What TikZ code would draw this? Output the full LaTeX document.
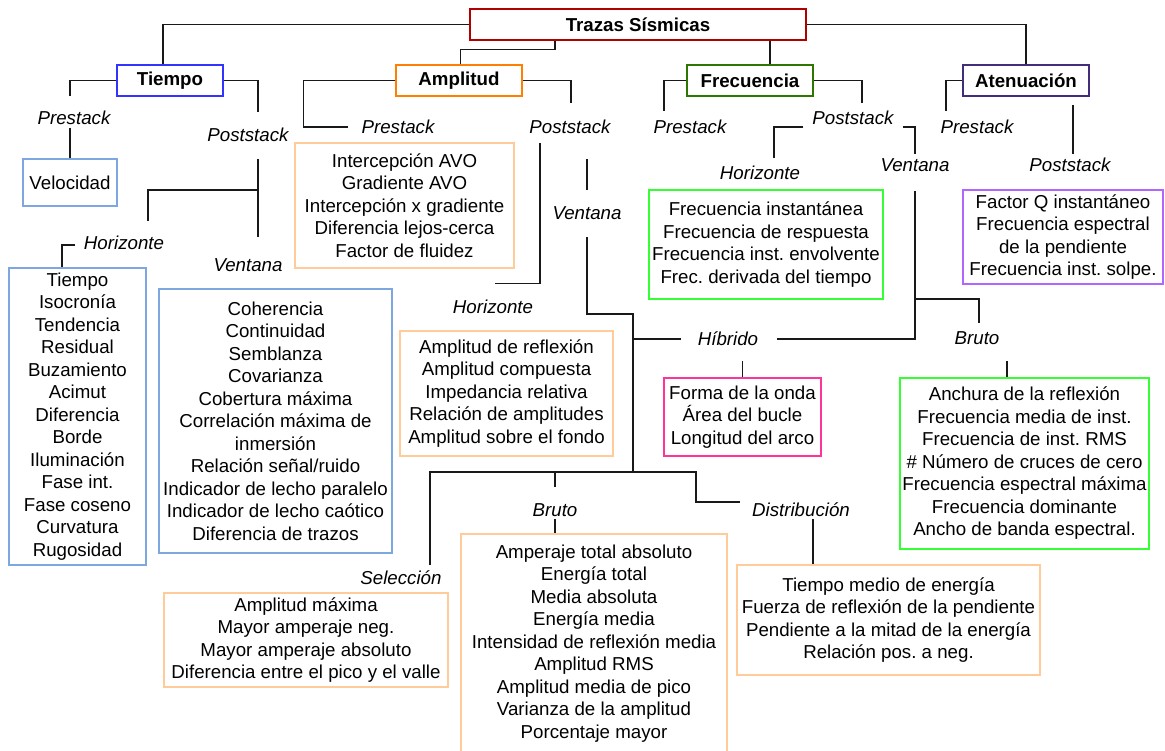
\documentclass[tikz,border=0pt]{standalone}
\usepackage{fontspec}
\setmainfont{Liberation Sans}
\definecolor{trz}{HTML}{B20000}
\definecolor{tmp}{HTML}{3333FF}
\definecolor{amp}{HTML}{FF8000}
\definecolor{frc}{HTML}{2D7600}
\definecolor{atn}{HTML}{432D7A}
\definecolor{lblue}{HTML}{7EA6E0}
\definecolor{lorange}{HTML}{FFCC99}
\definecolor{lgreen}{HTML}{33FF33}
\definecolor{lpurple}{HTML}{B266FF}
\definecolor{lpink}{HTML}{FF3399}
\begin{document}
\frenchspacing
\begin{tikzpicture}[x=1pt,y=-1pt,
  every node/.style={font=\fontsize{18.7}{22.5}\selectfont},
  cat/.style={draw,line width=1.5pt,font=\fontsize{18.7}{22.5}\selectfont\bfseries,inner sep=0pt,minimum height=31pt},
  lbl/.style={font=\fontsize{18.7}{22.5}\selectfont\itshape,inner sep=0pt,text height=13pt,text depth=0pt},
  lst/.style 2 args={draw,line width=1.5pt,align=center,inner sep=0pt,minimum width=#1,minimum height=#2},
  cn/.style={line width=1.3pt,draw=black!90}]
\useasboundingbox (0,0) rectangle (1165,751);
\fill[white] (0,0) rectangle (1165,751);

\node[cat,draw=trz,minimum width=336pt] (root) at (638,24.5) {Trazas Sísmicas};
\node[cat,draw=tmp,minimum width=106pt] (tiempo) at (170,80.5) {Tiempo};
\node[cat,draw=amp,minimum width=126pt] (amplitud) at (459,80.5) {Amplitud};
\node[cat,draw=frc,minimum width=126pt] (frecuencia) at (750,80.5) {Frecuencia};
\node[cat,draw=atn,minimum width=126pt] (atenuacion) at (1026,80.5) {Atenuación};

\node[lbl] (pTi) at (74,118) {Prestack};
\node[lbl] (sTi) at (248,135) {Poststack};
\node[lbl] (hTi) at (124,243) {Horizonte};
\node[lbl] (vTi) at (248,265) {Ventana};
\node[lbl] (pAm) at (398,127) {Prestack};
\node[lbl] (sAm) at (570,127) {Poststack};
\node[lbl] (vAm) at (587,213) {Ventana};
\node[lbl] (hAm) at (493,307) {Horizonte};
\node[lbl] (hib) at (728,339) {Híbrido};
\node[lbl] (selA) at (401,578) {Selección};
\node[lbl] (bAm) at (555,510) {Bruto};
\node[lbl] (distA) at (801,510) {Distribución};
\node[lbl] (pFr) at (690,127) {Prestack};
\node[lbl] (sFr) at (853,118) {Poststack};
\node[lbl] (hFr) at (760,173) {Horizonte};
\node[lbl] (vFr) at (915,165) {Ventana};
\node[lbl] (bFr) at (977,338) {Bruto};
\node[lbl] (pAt) at (977,127) {Prestack};
\node[lbl] (sAt) at (1070,165) {Poststack};

\node[lst={94pt}{47pt},draw=lblue] (velocidad) at (70,182.5) {Velocidad};
\node[lst={137pt}{297pt},draw=lblue] (tlist) at (77.5,416.5) {Tiempo\\Isocronía\\Tendencia\\Residual\\Buzamiento\\Acimut\\Diferencia\\Borde\\Iluminación\\Fase int.\\Fase coseno\\Curvatura\\Rugosidad};
\node[lst={233pt}{264pt},draw=lblue] (vlist) at (275.5,421) {Coherencia\\Continuidad\\Semblanza\\Covarianza\\Cobertura máxima\\Correlación máxima de\\inmersión\\Relación señal/ruido\\Indicador de lecho paralelo\\Indicador de lecho caótico\\Diferencia de trazos};
\node[lst={219pt}{125pt},draw=lorange] (avo) at (404.5,205.5) {Intercepción AVO\\Gradiente AVO\\Intercepción x gradiente\\Diferencia lejos-cerca\\Factor de fluidez};
\node[lst={213pt}{125pt},draw=lorange] (hAmBox) at (506.5,393.5) {Amplitud de reflexión\\Amplitud compuesta\\Impedancia relativa\\Relación de amplitudes\\Amplitud sobre el fondo};
\node[lst={157pt}{78pt},draw=lpink] (hbox) at (742.5,417) {Forma de la onda\\Área del bucle\\Longitud del arco};
\node[lst={249pt}{171pt},draw=lgreen] (bFrBox) at (1024.5,463.5) {Anchura de la reflexión\\Frecuencia media de inst.\\Frecuencia de inst. RMS\\\# Número de cruces de cero\\Frecuencia espectral máxima\\Frecuencia dominante\\Ancho de banda espectral.};
\node[lst={284pt}{94pt},draw=lorange] (selBox) at (306,640) {Amplitud máxima\\Mayor amperaje neg.\\Mayor amperaje absoluto\\Diferencia entre el pico y el valle};
\node[lst={266pt}{219pt},draw=lorange] (bAmBox) at (594,643.5) {Amperaje total absoluto\\Energía total\\Media absoluta\\Energía media\\Intensidad de reflexión media\\Amplitud RMS\\Amplitud media de pico\\Varianza de la amplitud\\Porcentaje mayor};
\node[lst={303pt}{110pt},draw=lorange] (distBox) at (888.5,620) {Tiempo medio de energía\\Fuerza de reflexión de la pendiente\\Pendiente a la mitad de la energía\\Relación pos. a neg.};
\node[lst={234pt}{109pt},draw=lgreen] (fHor) at (766,244.5) {Frecuencia instantánea\\Frecuencia de respuesta\\Frecuencia inst. envolvente\\Frec. derivada del tiempo};
\node[lst={200pt}{94pt},draw=lpurple] (atBox) at (1063,237) {Factor Q instantáneo\\Frecuencia espectral\\de la pendiente\\Frecuencia inst. solpe.};

\coordinate (jTi) at (258,190);
\coordinate (kAm) at (633,314);
\coordinate (jAm) at (633,472);
\coordinate (kDist) at (696,472);
\coordinate (jFr) at (915,299);

\draw[cn] (root.west) -| ([xshift=-7pt]tiempo.north);
\draw[cn] ([xshift=-83pt]root.south) -- ++(0,9) -| ([xshift=1.5pt]amplitud.north);
\draw[cn] ([xshift=132pt]root.south) -- ([xshift=20pt]frecuencia.north);
\draw[cn] (root.east) -| (atenuacion.north);

\draw[cn] (tiempo.west) -| ([xshift=-4pt,yshift=15.5pt]pTi.north);
\draw[cn] ([xshift=-4pt,yshift=-3.5pt]pTi.south) -- (velocidad.north);
\draw[cn] (tiempo.east) -| ([xshift=10pt,yshift=16.5pt]sTi.north);
\draw[cn] ([xshift=10pt,yshift=-17.5pt]sTi.south) -- ([xshift=10pt,yshift=21.5pt]vTi.north);
\draw[cn] (jTi) -| ([xshift=24pt,yshift=15.5pt]hTi.north);
\draw[cn] ([xshift=-8.5pt,yshift=-2pt]hTi.west) -| ([xshift=-15.5pt]tlist.north);

\draw[cn] (amplitud.west) -| ([xshift=-58pt]pAm.west) -- ([xshift=-13pt]pAm.west);
\draw[cn] (amplitud.east) -| ([xshift=1pt,yshift=17.5pt]sAm.north);
\draw[cn] ([xshift=-30pt,yshift=-9.5pt]sAm.south) |- ([xshift=2pt,yshift=16.5pt]hAm.north);
\draw[cn] ([xshift=17pt,yshift=-25.5pt]sAm.south) -- ([yshift=16.5pt]vAm.north);
\draw[cn] ([yshift=-17.5pt]vAm.south) |- (kAm) -- (jAm);
\draw[cn] ([xshift=-17pt]hib.west) -- (hib.west -| kAm);
\draw[cn] ([yshift=16pt]hbox.north) -- (hbox.north);
\draw[cn] ([xshift=29pt,yshift=6.5pt]selA.north) |- (kDist) |- ([xshift=-12pt,yshift=8pt]distA.west);
\draw[cn] (bAm.north |- jAm) -- ([yshift=16.5pt]bAm.north);
\draw[cn] ([yshift=-2.5pt]bAm.south) -- ([xshift=-39pt]bAmBox.north);
\draw[cn] ([xshift=12pt,yshift=-2.5pt]distA.south) -- ([xshift=-75.5pt]distBox.north);

\draw[cn] (frecuencia.west) -| ([xshift=-26pt,yshift=9.5pt]pFr.north);
\draw[cn] (frecuencia.east) -| ([xshift=9pt,yshift=8.5pt]sFr.north);
\draw[cn] ([xshift=-9pt,yshift=-9pt]sFr.west) -| ([xshift=14pt,yshift=8.5pt]hFr.north);
\draw[cn] ([xshift=9pt,yshift=-9pt]sFr.east) -| ([yshift=4.5pt]vFr.north);
\draw[cn] ([yshift=-19.5pt]vFr.south) |- ([xshift=19pt]hib.east);
\draw[cn] (jFr) -| ([xshift=2pt,yshift=8.5pt]bFr.north);
\draw[cn] ([xshift=-17.5pt,yshift=16pt]bFrBox.north) -- ([xshift=-17.5pt]bFrBox.north);

\draw[cn] (atenuacion.west) -| ([xshift=-31pt,yshift=9.5pt]pAt.north);
\draw[cn] ([xshift=47pt,yshift=-8pt]atenuacion.south) -- ([xshift=3pt,yshift=4.5pt]sAt.north);
\end{tikzpicture}
\end{document}
